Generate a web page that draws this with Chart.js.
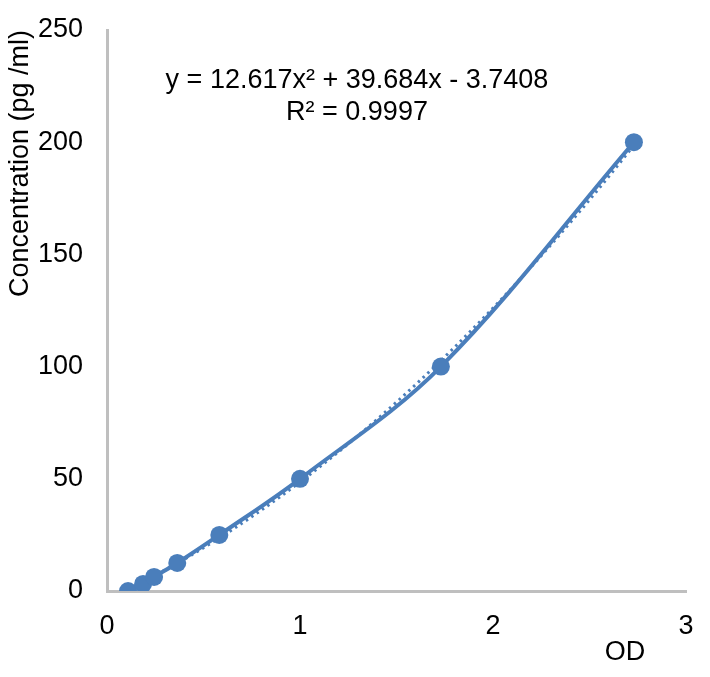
<!DOCTYPE html>
<html>
<head>
<meta charset="utf-8">
<script src="https://cdn.jsdelivr.net/npm/chart.js@4"></script>
<style>
  html, body { margin: 0; padding: 0; background: #fff; }
  #wrap { width: 710px; height: 677px; }
</style>
</head>
<body>
<div id="wrap"><canvas id="odChart" width="710" height="677"></canvas></div>
<script>
// Standard curve data
const odValues = [0.109, 0.187, 0.244, 0.364, 0.582, 1.0, 1.73, 2.73];
const concValues = [0, 3.125, 6.25, 12.5, 25, 50, 100, 200];
const xTicks = [0, 1, 2, 3];
const yTicks = [0, 50, 100, 150, 200, 250];
// Trendline coefficients shown on the chart (a, b, c for ax^2 + bx + c)
const trendCoeffs = [12.617, 39.684, -3.7408];
const equationLines = ['y = 12.617x\u00b2 + 39.684x - 3.7408', 'R\u00b2 = 0.9997'];

const blue = '#4a7ebb';
const axisGray = '#bfbfbf';
const font = '"Liberation Sans", Arial, sans-serif';

// Dotted polynomial trendline, drawn under the data line
const trendlinePlugin = {
    id: 'trendline',
    beforeDatasetsDraw(chart) {
        const ctx = chart.ctx;
        const xs = chart.scales.x;
        const ys = chart.scales.y;
        const x0 = odValues[0];
        const x1 = odValues[odValues.length - 1];
        ctx.save();
        ctx.strokeStyle = blue;
        ctx.lineWidth = 3;
        ctx.setLineDash([2.5, 4]);
        ctx.beginPath();
        for (let i = 0; i <= 200; i++) {
            const x = x0 + (x1 - x0) * i / 200;
            const y = trendCoeffs[0] * x * x + trendCoeffs[1] * x + trendCoeffs[2];
            const px = xs.getPixelForValue(x);
            const py = ys.getPixelForValue(y);
            if (i === 0) ctx.moveTo(px, py); else ctx.lineTo(px, py);
        }
        ctx.stroke();
        ctx.restore();
    }
};

// Equation label and x-axis title
const labelsPlugin = {
    id: 'labels',
    afterDraw(chart) {
        const ctx = chart.ctx;
        const area = chart.chartArea;
        ctx.save();
        ctx.fillStyle = '#000';
        ctx.font = '27px ' + font;
        ctx.textAlign = 'center';
        ctx.textBaseline = 'middle';
        ctx.fillText(equationLines[0], 357, 81);
        ctx.fillText(equationLines[1], 357, 113);
        ctx.fillText('OD', area.right - 61, 653);
        ctx.restore();
    }
};

document.addEventListener('DOMContentLoaded', function() {
    const ctx = document.getElementById('odChart').getContext('2d');
    new Chart(ctx, {
        type: 'scatter',
        data: {
            datasets: [{
                data: odValues.map((x, i) => ({ x: x, y: concValues[i] })),
                showLine: true,
                borderColor: blue,
                backgroundColor: blue,
                borderWidth: 4,
                tension: 0.35,
                pointRadius: 9,
                pointHoverRadius: 9,
                pointBorderWidth: 0
            }]
        },
        options: {
            responsive: false,
            animation: false,
            layout: { padding: { top: 30, right: 24, left: 0, bottom: 0 } },
            plugins: {
                legend: { display: false },
                tooltip: { enabled: false }
            },
            scales: {
                x: {
                    type: 'linear',
                    min: 0,
                    max: 3,
                    afterFit: s => { s.height = 86; s.paddingRight = 0; s.paddingLeft = 0; },
                    afterBuildTicks: s => { s.ticks = xTicks.map(v => ({ value: v })); },
                    grid: { display: false, drawTicks: false },
                    border: { display: true, color: axisGray, width: 3 },
                    ticks: { color: '#000', font: { family: font, size: 27 }, padding: 19, maxRotation: 0 }
                },
                y: {
                    type: 'linear',
                    min: 0,
                    max: 250,
                    afterFit: s => { s.width = 107; s.paddingTop = 0; s.paddingBottom = 0; },
                    afterBuildTicks: s => { s.ticks = yTicks.map(v => ({ value: v })); },
                    grid: { display: false, drawTicks: false },
                    border: { display: true, color: axisGray, width: 3 },
                    ticks: { color: '#000', font: { family: font, size: 27 }, padding: 24 },
                    title: {
                        display: true,
                        text: 'Concentration (pg /ml)',
                        align: 'end',
                        color: '#000',
                        font: { family: font, size: 27 },
                        padding: { top: 4, bottom: 0 }
                    }
                }
            }
        },
        plugins: [trendlinePlugin, labelsPlugin]
    });
});
</script>
</body>
</html>
